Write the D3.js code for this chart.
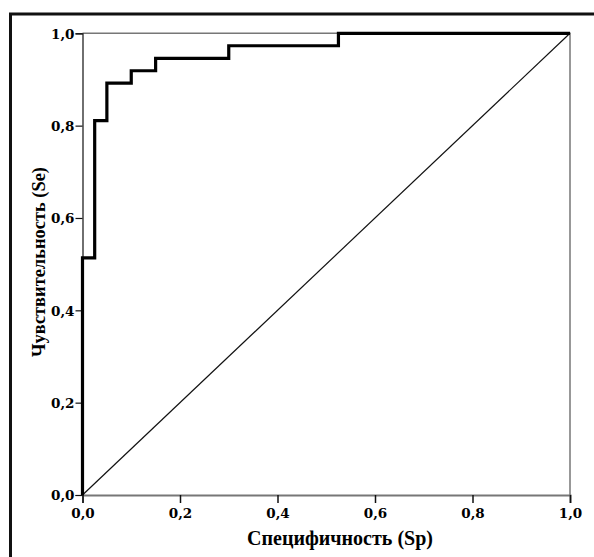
<!DOCTYPE html>
<html>
<head>
<meta charset="utf-8">
<script src="https://cdn.jsdelivr.net/npm/d3@7"></script>
<style>
  body { margin: 0; background: #fff; }
</style>
</head>
<body>
<div id="chart"></div>
<script>
// ROC curve: 1 - specificity (x) vs sensitivity (y)
const fpr = [0, 0, 0.025, 0.025, 0.05, 0.05, 0.1, 0.1, 0.15, 0.15, 0.3, 0.3, 0.525, 0.525, 1.0];
const tpr = [0, 0.5135, 0.5135, 0.8108, 0.8108, 0.8919, 0.8919, 0.9189, 0.9189, 0.9459, 0.9459, 0.9730, 0.9730, 1.0, 1.0];
const tickValues = [0, 0.2, 0.4, 0.6, 0.8, 1.0];
const xLabel = "Специфичность (Sp)";
const yLabel = "Чувствительность (Se)";

const serif = "'DejaVu Serif', 'Liberation Serif', serif";
const titleFont = "'Liberation Serif', 'Times New Roman', serif";

const width = 594, height = 557;
const margin = {top: 33.3, left: 82.5, right: 24, bottom: 62};
const innerwidth = width - margin.left - margin.right;
const innerheight = height - margin.top - margin.bottom;

const svg = d3.select("#chart").append("svg")
  .attr("width", width)
  .attr("height", height);

// outer frame (cut off at right and bottom)
svg.append("path")
  .attr("d", "M10.5," + (height + 5) + "V14H" + (width + 5))
  .attr("fill", "none")
  .attr("stroke", "#111")
  .attr("stroke-width", 3);

const g = svg.append("g")
  .attr("transform", "translate(" + margin.left + "," + margin.top + ")");

const x_scale = d3.scaleLinear().domain([0, 1]).range([0, innerwidth]);
const y_scale = d3.scaleLinear().domain([0, 1]).range([innerheight, 0]);

const fmt = d => d3.format(".1f")(d).replace(".", ",");

// frame top / right
g.append("path")
  .attr("d", "M0," + y_scale(1) + "H" + x_scale(1) + "V" + y_scale(0))
  .attr("fill", "none")
  .attr("stroke", "#777")
  .attr("stroke-width", 1.5);

// x axis
const xAxis = g.append("g")
  .attr("transform", "translate(0," + innerheight + ")")
  .call(d3.axisBottom(x_scale).tickValues(tickValues).tickFormat(fmt).tickSize(8).tickPadding(5));
xAxis.select(".domain").attr("stroke", "#777").attr("stroke-width", 2);
xAxis.selectAll(".tick line").attr("stroke", "#111").attr("stroke-width", 1.5);

// y axis
const yAxis = g.append("g")
  .call(d3.axisLeft(y_scale).tickValues(tickValues).tickFormat(fmt).tickSize(7).tickPadding(1));
yAxis.select(".domain").attr("stroke", "#111").attr("stroke-width", 1.2);
yAxis.selectAll(".tick line").attr("stroke", "#111").attr("stroke-width", 1.2);
yAxis.selectAll(".tick text").attr("dy", "0.35em");

g.selectAll(".tick text")
  .style("font-family", serif)
  .style("font-weight", "bold")
  .style("font-size", "13.5px")
  .attr("fill", "#000");

// reference diagonal
g.append("line")
  .attr("x1", x_scale(0)).attr("y1", y_scale(0))
  .attr("x2", x_scale(1)).attr("y2", y_scale(1))
  .attr("stroke", "#111")
  .attr("stroke-width", 1.2);

// ROC step line
const draw_line = d3.line()
  .x(d => x_scale(d[0]))
  .y(d => y_scale(d[1]));

g.append("path")
  .datum(d3.zip(fpr, tpr))
  .attr("d", draw_line)
  .attr("fill", "none")
  .attr("stroke", "#000")
  .attr("stroke-width", 3.2)
  .attr("stroke-linejoin", "miter");

// axis titles, sized to the widths seen in the reference
function fitText(sel, target) {
  const len = sel.node().getComputedTextLength();
  if (len > 0) sel.style("font-size", (20 * target / len).toFixed(2) + "px");
}

const xTitle = svg.append("text")
  .attr("x", 340)
  .attr("y", 545)
  .attr("text-anchor", "middle")
  .style("font-family", titleFont)
  .style("font-weight", "bold")
  .style("font-size", "20px")
  .text(xLabel);
fitText(xTitle, 186);

const yTitle = svg.append("text")
  .attr("transform", "translate(45,262) rotate(-90)")
  .attr("text-anchor", "middle")
  .style("font-family", titleFont)
  .style("font-weight", "bold")
  .style("font-size", "20px")
  .text(yLabel);
fitText(yTitle, 190);
</script>
</body>
</html>
